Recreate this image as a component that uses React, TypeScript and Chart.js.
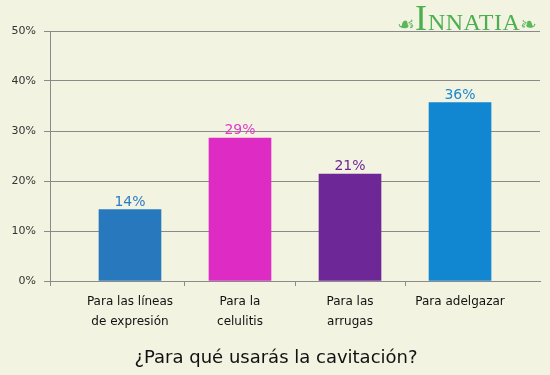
import React, { useEffect, useRef } from "react";
import { Chart, registerables } from "chart.js";

Chart.register(...registerables);

const categories: string[][] = [
  ["Para las líneas", "de expresión"],
  ["Para la", "celulitis"],
  ["Para las", "arrugas"],
  ["Para adelgazar"],
];
const values: number[] = [14.3, 28.6, 21.4, 35.7];
const barColors: string[] = ["#2878be", "#dd2bc3", "#6e2796", "#1087d0"];
const labelColors: string[] = ["#2f7cc0", "#e03cc8", "#6e2796", "#1a88d2"];
const yTicks: number[] = [0, 10, 20, 30, 40, 50];
const title = "¿Para qué usarás la cavitación?";

const BG = "#f3f3e2";
const GRID = "#8a8a8a";
const FONT = "'DejaVu Sans', Verdana, sans-serif";

const valueLabels = {
  id: "valueLabels",
  afterDatasetsDraw(chart: any) {
    const ctx = chart.ctx;
    const meta = chart.getDatasetMeta(0);
    ctx.save();
    ctx.font = `14px ${FONT}`;
    ctx.textAlign = "center";
    ctx.textBaseline = "alphabetic";
    meta.data.forEach((bar: any, i: number) => {
      ctx.fillStyle = labelColors[i];
      ctx.fillText(`${Math.round(values[i])}%`, bar.x, bar.y - 4);
    });
    ctx.restore();
  },
};

const bottomTitle = {
  id: "bottomTitle",
  afterDraw(chart: any) {
    const ctx = chart.ctx;
    ctx.save();
    ctx.font = `18px ${FONT}`;
    ctx.fillStyle = "#111";
    ctx.textAlign = "center";
    ctx.textBaseline = "middle";
    ctx.fillText(title, chart.width / 2 + 1, 358);
    ctx.restore();
  },
};

export default function App() {
  const ref = useRef<HTMLCanvasElement | null>(null);

  useEffect(() => {
    document.body.style.margin = "0";
    document.body.style.background = BG;
    const canvas = ref.current;
    if (!canvas) return;
    const chart = new Chart(canvas, {
      type: "bar",
      data: {
        datasets: [
          {
            data: values.map((v, i) => ({ x: i, y: v })),
            backgroundColor: barColors,
            borderWidth: 0,
            barThickness: 62,
          },
        ],
      },
      options: {
        animation: false,
        responsive: false,
        maintainAspectRatio: false,
        layout: { padding: { top: 31, right: 10, left: 0, bottom: 0 } },
        plugins: {
          legend: { display: false },
          tooltip: { enabled: false },
          title: { display: false },
        },
        scales: {
          x: {
            type: "linear",
            offset: false,
            min: -0.727,
            max: 3.727,
            afterBuildTicks(scale: any) {
              scale.ticks = [-0.727, 0, 0.5, 1, 1.5, 2, 2.5, 3].map((v) => ({ value: v }));
            },
            afterFit(scale: any) {
              scale.height = 94;
            },
            ticks: {
              autoSkip: false,
              maxRotation: 0,
              minRotation: 0,
              padding: 6,
              color: "#111",
              font: { family: FONT, size: 12, lineHeight: 1.65 },
              callback: (value: any) =>
                Number.isInteger(value) && value >= 0 && value < categories.length
                  ? categories[value]
                  : "",
            },
            grid: {
              display: true,
              offset: false,
              drawOnChartArea: false,
              drawTicks: true,
              tickLength: 5,
              tickColor: (ctx: any) =>
                ctx.tick && Number.isInteger(ctx.tick.value) ? "rgba(0,0,0,0)" : GRID,
            },
            border: { display: true, color: GRID, width: 1 },
          },
          y: {
            min: 0,
            max: 50,
            afterBuildTicks(scale: any) {
              scale.ticks = yTicks.map((v) => ({ value: v }));
            },
            afterFit(scale: any) {
              scale.width = 50;
            },
            ticks: {
              padding: 8,
              color: "#333",
              font: { family: FONT, size: 11 },
              callback: (value: any) => `${value}%`,
            },
            grid: {
              color: GRID,
              tickColor: GRID,
              tickLength: 6,
              lineWidth: 1,
            },
            border: { display: true, color: GRID, width: 1 },
          },
        },
      },
      plugins: [valueLabels, bottomTitle],
    } as any);
    return () => chart.destroy();
  }, []);

  return (
    <div style={{ position: "relative", width: 550, height: 375, background: BG }}>
      <canvas ref={ref} width={550} height={375} style={{ display: "block" }} />
      <div
        style={{
          position: "absolute",
          left: 397,
          top: 0,
          width: 150,
          height: 40,
          display: "flex",
          alignItems: "flex-end",
          color: "#4caf50",
          fontFamily: "'DejaVu Sans', sans-serif",
          lineHeight: 1,
          pointerEvents: "none",
          whiteSpace: "nowrap",
        }}
      >
        <span style={{ fontSize: 20, marginBottom: 6, color: "#5cb85c" }}>☙</span>
        <span style={{ fontSize: 36, fontFamily: "'Liberation Serif', serif", marginBottom: 4, marginRight: 1 }}>I</span>
        <span
          style={{
            fontSize: 24,
            fontFamily: "'Liberation Serif', serif",
            letterSpacing: 0.5,
            marginBottom: 6,
          }}
        >
          NNATIA
        </span>
        <span style={{ fontSize: 20, marginBottom: 6, color: "#5cb85c" }}>❧</span>
      </div>
    </div>
  );
}
